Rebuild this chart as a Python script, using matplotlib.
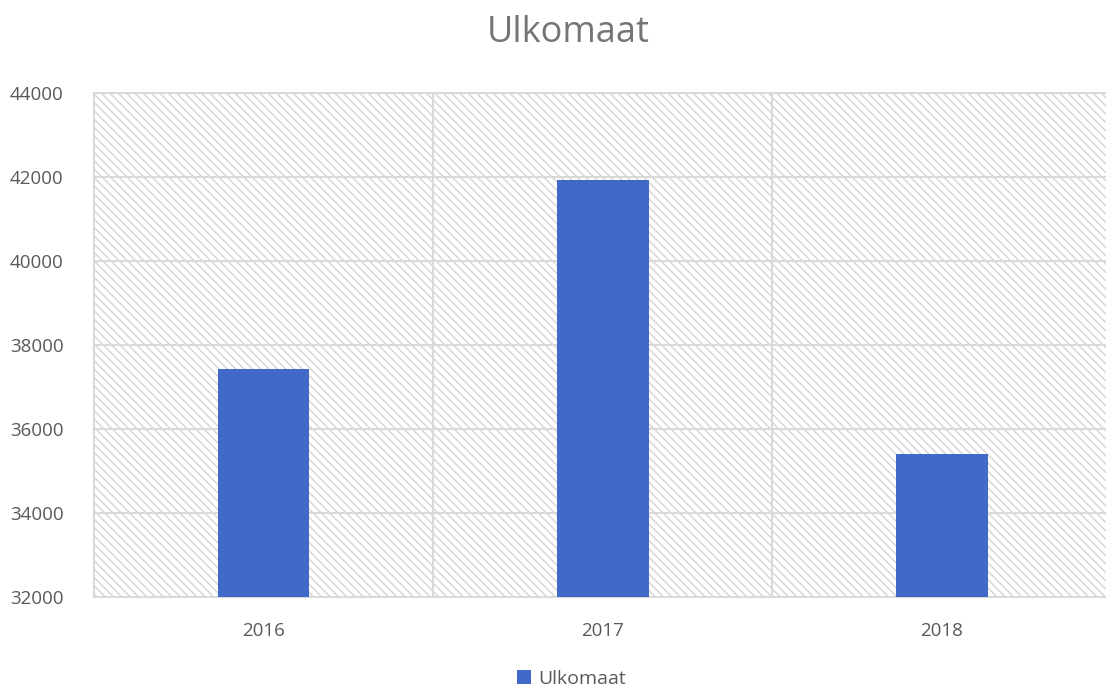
import matplotlib
matplotlib.use('Agg')
import matplotlib.pyplot as plt
from matplotlib.patches import Rectangle

years = ['2016', '2017', '2018']
values = [37430, 41920, 35400]
series_name = 'Ulkomaat'

plt.rcParams['font.family'] = ['Open Sans', 'DejaVu Sans']
plt.rcParams['hatch.color'] = '#d4d4d4'
plt.rcParams['hatch.linewidth'] = 1.0

fig = plt.figure(figsize=(11.06, 6.88), dpi=100)
ax = fig.add_axes([0.085, 0.132, 0.92, 0.733])

# hatched plot background
bg = Rectangle((0, 0), 1, 1, transform=ax.transAxes, facecolor='white',
               edgecolor='#d4d4d4', hatch='\\\\\\\\', lw=0, zorder=0)
ax.add_patch(bg)

x = range(len(years))
ax.bar(x, values, width=0.27, color='#4169C7', zorder=3, label=series_name)

ax.set_xlim(-0.5, 2.5)
ax.set_ylim(32000, 44000)
ax.set_yticks(range(32000, 44001, 2000))
ax.set_xticks(list(x))
ax.set_xticklabels(years)

for yv in range(34000, 44001, 2000):
    ax.axhline(yv, color='#d9d9d9', lw=1.5, zorder=1)
for xv in [0.5, 1.5]:
    ax.axvline(xv, color='#d9d9d9', lw=1.5, zorder=1)

for s in ax.spines.values():
    s.set_color('#d9d9d9')
    s.set_linewidth(1.5)
ax.spines['right'].set_visible(False)

ax.tick_params(length=0, colors='#595959', labelsize=13.5)
ax.tick_params(axis='x', pad=18)
ax.tick_params(axis='y', pad=22)

fig.text(0.514, 0.952, 'Ulkomaat', ha='center', va='center', fontsize=26, color='#757575')

fig.legend(loc='center', bbox_to_anchor=(0.517, 0.013), frameon=False, fontsize=14,
           handlelength=0.7, handleheight=0.7, handletextpad=0.4, labelcolor='#595959')

fig.savefig('out.png', dpi=100)
